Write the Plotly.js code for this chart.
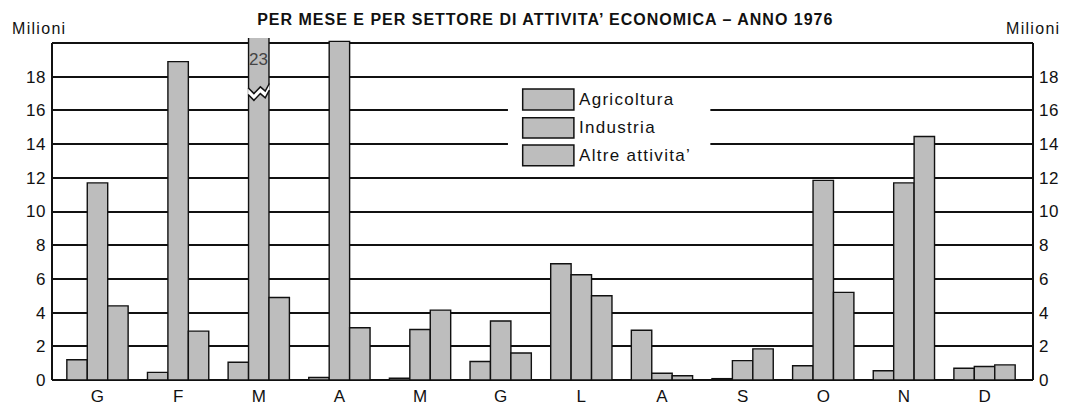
<!DOCTYPE html>
<html>
<head>
<meta charset="utf-8">
<script src="https://cdn.plot.ly/plotly-3.0.1.min.js"></script>
<style>
html,body{margin:0;padding:0;background:#fff;}
#chart{width:1065px;height:405px;}
.annotation-text{letter-spacing:1.3px;}
.gtitle{letter-spacing:1px;}
.ytick text, .y2tick text{letter-spacing:0.6px;}
</style>
</head>
<body>
<div id="chart"></div>
<script>
// ---- data (milioni di ore) ----
const months = ['G','F','M','A','M','G','L','A','S','O','N','D'];
const seriesNames = ['Agricoltura','Industria','Altre attivita\u2019'];
const agricoltura = [1.2, 0.45, 1.05, 0.15, 0.1, 1.1, 6.9, 2.95, 0.08, 0.85, 0.55, 0.7];
const industria   = [11.7, 18.9, 23, 20.1, 3.0, 3.5, 6.25, 0.4, 1.15, 11.85, 11.7, 0.8];
const altre       = [4.4, 2.9, 4.9, 3.1, 4.15, 1.6, 5.0, 0.25, 1.85, 5.2, 14.45, 0.9];
const yTicks = [0,2,4,6,8,10,12,14,16,18,20];
const yTickText = ['0','2','4','6','8','10','12','14','16','18',''];

const idx = months.map((m,i)=>i);
const barFill = '#bdbdbd';
const font = 'Liberation Sans, Arial, sans-serif';

function bar(name, vals){
  return {type:'bar', name:name, x:idx, y:vals,
    marker:{color:barFill, line:{color:'#111', width:1.4}},
    hoverinfo:'x+y+name', showlegend:false};
}
const traces = [
  bar(seriesNames[0], agricoltura),
  bar(seriesNames[1], industria),
  bar(seriesNames[2], altre),
  {type:'scatter', x:[], y:[], yaxis:'y2', showlegend:false, hoverinfo:'skip'}
];

const yr = [0, 20.3];
const axisY = {
  range: yr, tickvals: yTicks, ticktext: yTickText,
  showgrid:true, gridcolor:'#111', gridwidth:2,
  zeroline:true, zerolinecolor:'#111', zerolinewidth:2,
  showline:false, ticks:'', ticklabelstandoff:5,
  tickfont:{family:font, size:17, color:'#111'}, fixedrange:true
};

// break on the March "Industria" bar (value off scale)
const mi = 2;           // March
const hw = 0.2533/2;    // half bar width in category units
const xl = mi - hw, xr = mi + hw;
const up = [[xl-0.005,17.35],[mi-0.06,17.0],[mi+0.02,17.4],[mi+0.08,17.15],[xr+0.005,17.6]];
const lo = up.map(p=>[p[0], p[1]-0.4]);
const pth = pts => pts.map((p,i)=>(i?'L':'M')+p[0]+','+p[1]).join(' ');
const breakFill = pth(up) + ' ' + pth(lo.slice().reverse()).replace('M','L') + ' Z';

const shapes = [
  // white area behind legend
  {type:'rect', xref:'x', yref:'y', x0:5.09, x1:7.6, y0:12.5, y1:17.8,
   fillcolor:'#fff', line:{width:0}, layer:'above'},
  // frame verticals
  {type:'line', xref:'paper', yref:'y', x0:0, x1:0, y0:0, y1:20, line:{color:'#111', width:2}},
  {type:'line', xref:'paper', yref:'y', x0:1, x1:1, y0:0, y1:20, line:{color:'#111', width:2}},
  // scale break
  {type:'path', xref:'x', yref:'y', path:breakFill, fillcolor:'#fff', line:{width:0}},
  {type:'path', xref:'x', yref:'y', path:pth(up), line:{color:'#111', width:1.5}},
  {type:'path', xref:'x', yref:'y', path:pth(lo), line:{color:'#111', width:1.5}}
];

// hand legend
const legX0 = 0.4798, legX1 = 0.532;
const legRows = [[16.02,17.27],[14.36,15.57],[12.72,13.95]];
const annotations = [
  {xref:'paper', yref:'paper', x:-0.043, y:1.028, xanchor:'left', yanchor:'middle',
   text:'Milioni', showarrow:false, font:{family:font, size:16, color:'#111'}},
  {xref:'paper', yref:'paper', x:1.0296, y:1.028, xanchor:'right', yanchor:'middle',
   text:'Milioni', showarrow:false, font:{family:font, size:16, color:'#111'}},
  {xref:'x', yref:'y', x:mi, y:19.05,
   text:'<span style="letter-spacing:0px">' + String(industria[mi]) + '</span>', showarrow:false,
   font:{family:font, size:17, color:'#444'}}
];
legRows.forEach((r,i)=>{
  shapes.push({type:'rect', xref:'paper', yref:'y', x0:legX0, x1:legX1, y0:r[0], y1:r[1],
    fillcolor:barFill, line:{color:'#111', width:1.5}, layer:'above'});
  annotations.push({xref:'paper', yref:'y', x:legX1+0.003, y:(r[0]+r[1])/2, xanchor:'left',
    yanchor:'middle', text:seriesNames[i], showarrow:false,
    font:{family:font, size:17, color:'#111'}});
});

const layout = {
  width:1065, height:405,
  margin:{l:52, r:32, t:38, b:25, pad:0},
  paper_bgcolor:'#fff', plot_bgcolor:'#fff',
  title:{text:'PER MESE E PER SETTORE DI ATTIVITA\u2019 ECONOMICA \u2013 ANNO 1976',
    font:{family:font, size:16, weight:'bold', color:'#111'},
    x:0.512, xanchor:'center', y:0.952, yanchor:'middle'},
  barmode:'group', bargap:0.24, bargroupgap:0,
  showlegend:false,
  xaxis:{range:[-0.564, 11.601], tickvals:idx, ticktext:months, showgrid:false,
    zeroline:false, showline:false, ticks:'', ticklabelstandoff:4,
    tickfont:{family:font, size:17, color:'#111'}, fixedrange:true},
  yaxis: axisY,
  yaxis2: Object.assign({}, axisY, {overlaying:'y', side:'right', showgrid:false, zeroline:false}),
  shapes: shapes,
  annotations: annotations
};

Plotly.newPlot('chart', traces, layout, {displayModeBar:false, staticPlot:true});
</script>
</body>
</html>
